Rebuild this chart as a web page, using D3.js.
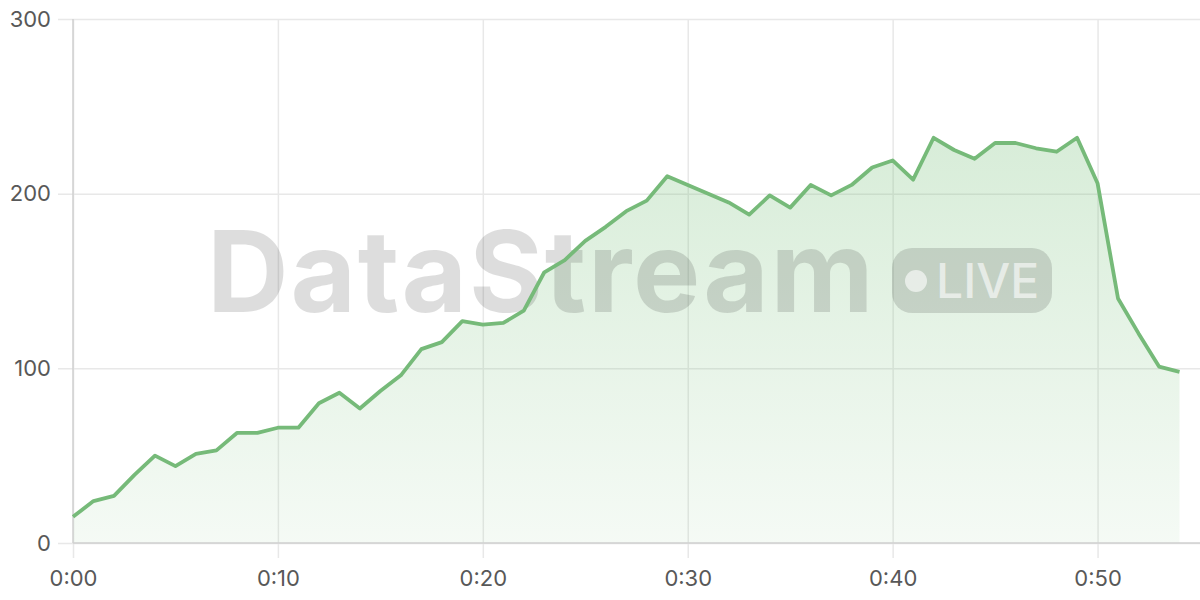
<!DOCTYPE html>
<html>
<head>
<meta charset="utf-8">
<script src="https://cdn.jsdelivr.net/npm/d3@7"></script>
<style>
  html, body { margin: 0; padding: 0; background: #fff; }
  svg { display: block; }
  svg text { font-family: Inter, "Open Sans", sans-serif; }
</style>
</head>
<body>
<script>
// minutes since start
const minutes = [0, 1, 2, 3, 4, 5, 6, 7, 8, 9, 10, 11, 12, 13, 14, 15, 16, 17, 18, 19,
    20, 21, 22, 23, 24, 25, 26, 27, 28, 29, 30, 31, 32, 33, 34, 35, 36, 37, 38, 39,
    40, 41, 42, 43, 44, 45, 46, 47, 48, 49, 50, 51, 52, 53, 54];
const counts = [15, 24, 27, 39, 50, 44, 51, 53, 63, 63, 66, 66, 80, 86, 77, 87, 96, 111, 115, 127,
    125, 126, 133, 155, 162, 173, 181, 190, 196, 210, 205, 200, 195, 188, 199, 192, 205, 199, 205, 215,
    219, 208, 232, 225, 220, 229, 229, 226, 224, 232, 206, 140, 120, 101, 98];
const xTicks = [0, 10, 20, 30, 40, 50];
const yTicks = [0, 100, 200, 300];

const width = 1200;
const height = 600;
const margin = { top: 19, right: 0, bottom: 57, left: 73 };
const font = "Inter, 'Open Sans', sans-serif";

const data = minutes.map((m, i) => ({ m, v: counts[i] }));

const svg = d3.select("body").append("svg")
    .attr("width", width)
    .attr("height", height);

const x = d3.scaleLinear()
    .domain([0, 55])
    .range([margin.left, width - margin.right]);

const y = d3.scaleLinear()
    .domain([0, 300])
    .range([height - margin.bottom, margin.top]);

const fmt = m => `${Math.floor(m / 60)}:${String(m % 60).padStart(2, "0")}`;

// gradient for the area
const grad = svg.append("defs").append("linearGradient")
    .attr("id", "areaFill")
    .attr("gradientUnits", "userSpaceOnUse")
    .attr("x1", 0).attr("x2", 0)
    .attr("y1", y(d3.max(counts))).attr("y2", y(0));
grad.append("stop").attr("offset", "0%").attr("stop-color", "#6dbb70").attr("stop-opacity", 0.27);
grad.append("stop").attr("offset", "100%").attr("stop-color", "#6dbb70").attr("stop-opacity", 0.07);

// horizontal grid + y labels
const yAxis = svg.append("g")
    .attr("transform", `translate(${margin.left},0)`)
    .call(d3.axisLeft(y)
        .tickValues(yTicks)
        .tickSize(-(width - margin.left - margin.right))
        .tickSizeOuter(0)
        .tickPadding(22)
        .tickFormat(d3.format("d")))
    .attr("font-family", font);
yAxis.select(".domain").remove();
yAxis.selectAll(".tick line")
    .attr("x1", -15)
    .attr("stroke", "#e8e8e8")
    .attr("stroke-width", 1.5);
yAxis.selectAll(".tick text")
    .attr("fill", "#585858")
    .style("font-size", "22px");

// vertical grid + x labels
const xAxis = svg.append("g")
    .attr("transform", `translate(0,${height - margin.bottom})`)
    .call(d3.axisBottom(x)
        .tickValues(xTicks)
        .tickSize(-(height - margin.top - margin.bottom))
        .tickSizeOuter(0)
        .tickPadding(27)
        .tickFormat(fmt))
    .attr("font-family", font);
xAxis.select(".domain").remove();
xAxis.selectAll(".tick line")
    .attr("y1", 15)
    .attr("stroke", "#e8e8e8")
    .attr("stroke-width", 1.5);
xAxis.selectAll(".tick text")
    .attr("fill", "#585858")
    .style("font-size", "22px");

// area
svg.append("path")
    .datum(data)
    .attr("fill", "url(#areaFill)")
    .attr("d", d3.area()
        .x(d => x(d.m))
        .y0(y(0))
        .y1(d => y(d.v)));

// axis lines
svg.append("line")
    .attr("x1", margin.left).attr("x2", margin.left)
    .attr("y1", y(300)).attr("y2", y(0))
    .attr("stroke", "#d0d0d0").attr("stroke-width", 1.5);
svg.append("line")
    .attr("x1", margin.left).attr("x2", width)
    .attr("y1", y(0)).attr("y2", y(0))
    .attr("stroke", "#d0d0d0").attr("stroke-width", 1.5);

// watermark
const wm = svg.append("g").attr("pointer-events", "none");
wm.append("text")
    .attr("x", 207)
    .attr("y", 312)
    .attr("fill", "#000")
    .attr("fill-opacity", 0.135)
    .style("font-size", "113px")
    .style("font-weight", 700)
    .style("letter-spacing", "1.8px")
    .text("DataStream");
wm.append("rect")
    .attr("x", 892).attr("y", 248)
    .attr("width", 160).attr("height", 65)
    .attr("rx", 20)
    .attr("fill", "#000")
    .attr("fill-opacity", 0.135);
wm.append("circle")
    .attr("cx", 916).attr("cy", 281)
    .attr("r", 11)
    .attr("fill", "#fff")
    .attr("fill-opacity", 0.6);
wm.append("text")
    .attr("x", 936)
    .attr("y", 298)
    .attr("fill", "#fff")
    .attr("fill-opacity", 0.6)
    .style("font-size", "48px")
    .style("font-weight", 500)
    .text("LIVE");

// line
svg.append("path")
    .datum(data)
    .attr("fill", "none")
    .attr("stroke", "#76ba79")
    .attr("stroke-width", 3.8)
    .attr("stroke-linejoin", "round")
    .attr("d", d3.line()
        .x(d => x(d.m))
        .y(d => y(d.v)));
</script>
</body>
</html>
